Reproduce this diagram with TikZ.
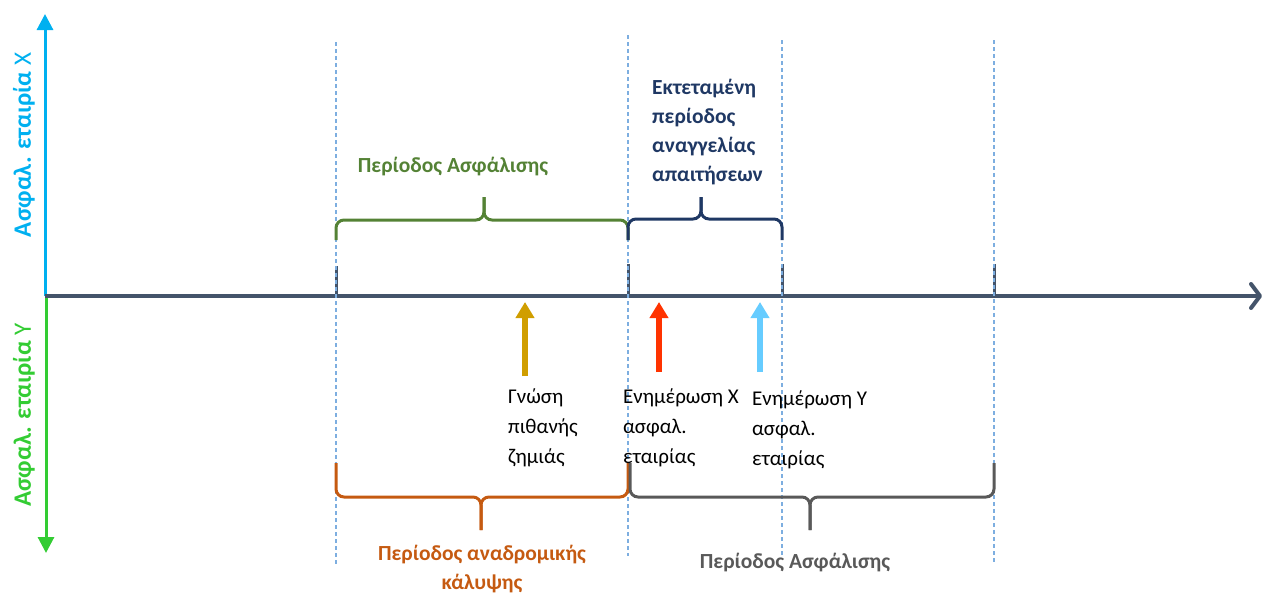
\documentclass[tikz,border=0pt]{standalone}
\usepackage{fontspec}
\setmainfont{Carlito}
\usetikzlibrary{arrows.meta}
\definecolor{axisc}{HTML}{44546A}
\definecolor{cyanc}{HTML}{00B0F0}
\definecolor{greenax}{HTML}{33CC33}
\definecolor{greenbr}{HTML}{548235}
\definecolor{navyc}{HTML}{1F3864}
\definecolor{orangec}{HTML}{C55A11}
\definecolor{grayc}{HTML}{595959}
\definecolor{dashc}{HTML}{7DAEE0}
\definecolor{goldc}{HTML}{D09E00}
\definecolor{redc}{HTML}{FF3300}
\definecolor{lightbc}{HTML}{66CCFF}
\begin{document}
\begin{tikzpicture}[x=1pt,y=-1pt,
  guide/.style={dashc,line width=1.2pt,dash pattern=on 4pt off 3pt},
  tickm/.style={axisc,line width=3pt},
  bracec/.style={line width=3pt,rounded corners=8pt},
  uparr/.style={line width=6pt,-{Triangle[length=16pt,width=18pt]}},
  plain/.style={anchor=base west,align=left,font=\fontsize{21}{30}\selectfont,inner sep=0pt},
  blabel/.style={align=center,font=\fontsize{21.5}{29}\bfseries\selectfont,inner sep=0pt},
  sidelab/.style={rotate=90,font=\fontsize{25}{28}\selectfont,inner sep=0pt}]
\useasboundingbox (0,0) rectangle (1264,592);
% coordinates
\coordinate (O) at (45,296);
\coordinate (Og) at (46,296);
\coordinate (xend) at (1262,296);
\coordinate (ytop) at (45,14);
\coordinate (ybot) at (46,553);
% ticks
\coordinate (t1a) at (336,266); \coordinate (t1b) at (336,296);
\coordinate (t2a) at (628,264); \coordinate (t2b) at (628,296);
\coordinate (t3a) at (782,264); \coordinate (t3b) at (782,296);
\coordinate (t4a) at (994,264); \coordinate (t4b) at (994,296);
\draw[tickm] (t1a) -- (t1b);
\draw[tickm] (t2a) -- (t2b);
\draw[tickm] (t3a) -- (t3b);
\draw[tickm] (t4a) -- (t4b);
% vertical axes
\draw[cyanc,line width=3pt,-{Triangle[length=16pt,width=16pt]}] (O) -- (ytop);
\draw[greenax,line width=3pt,-{Triangle[length=16pt,width=16pt]}] (Og) -- (ybot);
% horizontal axis
\draw[axisc,line width=4pt,-{Straight Barb[length=9pt,width=24pt,line cap=round,line join=round]}] (O) -- (xend);
% dashed guides
\coordinate (g1a) at (336,42);  \coordinate (g1b) at (336,566);
\coordinate (g2a) at (628,35);  \coordinate (g2b) at (628,556);
\coordinate (g3a) at (782,40);  \coordinate (g3b) at (782,556);
\coordinate (g4a) at (994,40);  \coordinate (g4b) at (994,562);
\draw[guide] (g1a) -- (g1b);
\draw[guide] (g2a) -- (g2b);
\draw[guide] (g3a) -- (g3b);
\draw[guide] (g4a) -- (g4b);
% side labels
\node[sidelab,cyanc] (labX) at (24,145) {\textbf{Ασφαλ. εταιρία} X};
\node[sidelab,greenax] (labY) at (24,415) {\textbf{Ασφαλ. εταιρία} Y};
% top braces
\draw[bracec,greenbr] (336,240) -- (336,220) -- (484,220) -- (484,197);
\draw[bracec,greenbr] (628,240) -- (628,220) -- (484,220) -- (484,197);
\draw[bracec,navyc] (628,240) -- (628,219) -- (701,219) -- (701,197);
\draw[bracec,navyc] (782,240) -- (782,219) -- (701,219) -- (701,197);
% bottom braces
\draw[bracec,orangec] (336,463) -- (336,497) -- (481,497) -- (481,530);
\draw[bracec,orangec] (628,463) -- (628,497) -- (481,497) -- (481,530);
\draw[bracec,grayc] (630,463) -- (630,497) -- (810,497) -- (810,530);
\draw[bracec,grayc] (994,463) -- (994,497) -- (810,497) -- (810,530);
% brace labels
\node[blabel,greenbr,anchor=base] (lab1) at (453,172) {Περίοδος Ασφάλισης};
\node[blabel,navyc,anchor=base west,align=left] (lab2) at (652,181) {Εκτεταμένη\\περίοδος\\αναγγελίας\\απαιτήσεων};
\node[blabel,orangec,anchor=base] (lab3) at (482,589) {Περίοδος αναδρομικής\\κάλυψης};
\node[blabel,grayc,anchor=base] (lab4) at (795,568) {Περίοδος Ασφάλισης};
% event arrows
\coordinate (a1s) at (525,376); \coordinate (a1e) at (525,302);
\coordinate (a2s) at (659,372); \coordinate (a2e) at (659,302);
\coordinate (a3s) at (760,372); \coordinate (a3e) at (760,302);
\draw[uparr,goldc] (a1s) -- (a1e);
\draw[uparr,redc] (a2s) -- (a2e);
\draw[uparr,lightbc] (a3s) -- (a3e);
% event texts
\node[plain] (e1) at (508,463) {Γνώση\\πιθανής\\ζημιάς};
\node[plain] (e2) at (623,463) {Ενημέρωση X\\ασφαλ.\\εταιρίας};
\node[plain] (e3) at (752,465) {Ενημέρωση Y\\ασφαλ.\\εταιρίας};
\end{tikzpicture}
\end{document}
